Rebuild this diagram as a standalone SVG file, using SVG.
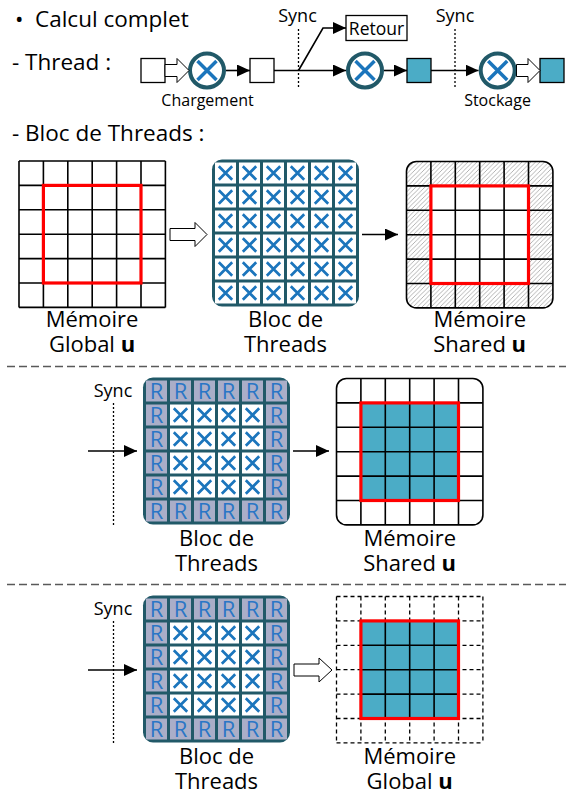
<svg xmlns="http://www.w3.org/2000/svg" xmlns:xlink="http://www.w3.org/1999/xlink" width="566" height="794" viewBox="0 0 566 794">
<style>
text{font-family:"Open Sans","Noto Sans","Liberation Sans",sans-serif;fill:#000}
.big{font-size:22.5px}
.lbl{font-size:22px;text-anchor:middle}
.sm{font-size:16px;text-anchor:middle}
.sync{font-size:18px;text-anchor:middle}
.box{fill:#fff;stroke:#000;stroke-width:1.3}
.tbox{fill:#4bacc6;stroke:#000;stroke-width:1.3}
.circ{fill:#fff;stroke:#215968;stroke-width:4}
.bx{stroke:#1b75bc;stroke-width:3.5;fill:none;stroke-linecap:butt}
.ln{stroke:#000;stroke-width:1.6;fill:none}
.hol{fill:#fff;stroke:#000;stroke-width:1}
.dot{stroke:#000;stroke-width:1.3;stroke-dasharray:2,2;fill:none}
.sep{stroke:#595959;stroke-width:1.3;stroke-dasharray:8,4;fill:none}
.grid{stroke:#000;stroke-width:1.6;fill:none}
.dgrid{stroke:#000;stroke-width:1.3;stroke-dasharray:4,3;fill:none}
.red{stroke:#ff0000;stroke-width:3.2;fill:none}
.frame{fill:#215968}
.R{font-size:22px;text-anchor:middle;fill:#2a76c6}
</style>
<defs>
<marker id="ah" markerUnits="userSpaceOnUse" markerWidth="14" markerHeight="12" refX="13" refY="6" orient="auto">
<path d="M0,0 L13,6 L0,12 z" fill="#000"/>
</marker>
<pattern id="hatch" patternUnits="userSpaceOnUse" width="4.5" height="4.5">
<rect width="4.5" height="4.5" fill="#fff"/>
<path d="M-1,1 l2,-2 M0,4.5 l4.5,-4.5 M3.5,5.5 l2,-2" stroke="#a0a0a0" stroke-width="0.8"/>
</pattern>
<g id="cx">
<rect width="21" height="21" fill="#fff"/>
<path d="M3.8,3.8 L17.2,17.2 M17.2,3.8 L3.8,17.2" stroke="#1b75bc" stroke-width="2.7" fill="none"/>
</g>
<g id="cr">
<rect width="21" height="21" fill="#aaaec8"/>
<text x="10.5" y="18.8" class="R">R</text>
</g>
<g id="cxx">
<path d="M-9.5,-9.5 L9.5,9.5 M9.5,-9.5 L-9.5,9.5" class="bx"/>
</g>
</defs>

<!-- Header texts -->
<g id="titles">
<text x="15" y="27" class="big">•</text>
<text x="35" y="27" class="big">Calcul complet</text>
<text x="12" y="70" class="big">- Thread :</text>
<text x="12" y="141" class="big">- Bloc de Threads :</text>
</g>

<!-- Thread row -->
<g id="thread-row">
<g id="box1"><rect x="141" y="58.5" width="24" height="24" class="box"/></g>
<g id="op1"><circle cx="207" cy="70.5" r="17" class="circ"/><use href="#cxx" x="207" y="70.5"/><text x="207.5" y="106" class="sm">Chargement</text></g>
<g id="box2"><rect x="250" y="58.5" width="24" height="24" class="box"/></g>
<g id="retour"><rect x="346" y="15.5" width="61" height="25" class="box"/><text x="376.5" y="35" style="font-size:17.5px;text-anchor:middle">Retour</text></g>
<g id="op2"><circle cx="365" cy="70.5" r="17" class="circ"/><use href="#cxx" x="365" y="70.5"/></g>
<g id="box3"><rect x="407" y="58.5" width="24" height="24" class="tbox"/></g>
<g id="op3"><circle cx="497.7" cy="70.5" r="17" class="circ"/><use href="#cxx" x="497.7" y="70.5"/><text x="497.5" y="106" class="sm">Stockage</text></g>
<g id="box4"><rect x="540" y="58.5" width="24" height="24" class="tbox"/></g>
<g id="sync1"><line x1="298.5" y1="29" x2="298.5" y2="89" class="dot"/><text x="297.5" y="22" class="sync">Sync</text></g>
<g id="sync2"><line x1="455" y1="29" x2="455" y2="89" class="dot"/><text x="455" y="22" class="sync">Sync</text></g>
</g>

<g id="connectors">
<polygon points="165,64.5 177,64.5 177,58.5 189,70.5 177,82.5 177,76.5 165,76.5" class="hol"/>
<line x1="226" y1="70.5" x2="250" y2="70.5" class="ln" marker-end="url(#ah)"/>
<line x1="274" y1="70.5" x2="346" y2="70.5" class="ln" marker-end="url(#ah)"/>
<polyline points="298.5,70.5 323,28 346,28" class="ln" marker-end="url(#ah)"/>
<line x1="384" y1="70.5" x2="407" y2="70.5" class="ln" marker-end="url(#ah)"/>
<line x1="431" y1="70.5" x2="478.5" y2="70.5" class="ln" marker-end="url(#ah)"/>
<polygon points="516.5,64.5 528,64.5 528,58.5 540,70.5 528,82.5 528,76.5 516.5,76.5" class="hol"/>
<polygon points="170,228.5 195,228.5 195,222.5 207,234.5 195,246.5 195,240.5 170,240.5" class="hol"/>
<line x1="362" y1="234.5" x2="398" y2="234.5" class="ln" marker-end="url(#ah)"/>
<line x1="88" y1="451" x2="137" y2="451" class="ln" marker-end="url(#ah)"/>
<line x1="293" y1="451" x2="329" y2="451" class="ln" marker-end="url(#ah)"/>
<line x1="88" y1="670" x2="137" y2="670" class="ln" marker-end="url(#ah)"/>
<polygon points="294,664 319,664 319,658 332,670 319,682 319,676 294,676" class="hol"/>
</g>

<!-- Section 1 -->
<g id="mem-global-1">
<rect x="19" y="161" width="146.4" height="146.4" fill="#fff"/>
<path class="grid" d="M19,161V307.4M43.4,161V307.4M67.8,161V307.4M92.2,161V307.4M116.6,161V307.4M141,161V307.4M165.4,161V307.4M19,161H165.4M19,185.4H165.4M19,209.8H165.4M19,234.2H165.4M19,258.6H165.4M19,283H165.4M19,307.4H165.4"/>
<rect x="43.4" y="185.4" width="97.6" height="97.6" class="red"/>
<text x="92" y="327" class="lbl">Mémoire</text>
<text x="92" y="352" class="lbl">Global <tspan font-weight="bold">u</tspan></text>
</g>

<g id="bloc-1">
<rect x="212" y="159.5" width="147" height="147" rx="10" class="frame"/>
<use href="#cx" x="215" y="162.5"/><use href="#cx" x="239" y="162.5"/><use href="#cx" x="263" y="162.5"/><use href="#cx" x="287" y="162.5"/><use href="#cx" x="311" y="162.5"/><use href="#cx" x="335" y="162.5"/>
<use href="#cx" x="215" y="186.5"/><use href="#cx" x="239" y="186.5"/><use href="#cx" x="263" y="186.5"/><use href="#cx" x="287" y="186.5"/><use href="#cx" x="311" y="186.5"/><use href="#cx" x="335" y="186.5"/>
<use href="#cx" x="215" y="210.5"/><use href="#cx" x="239" y="210.5"/><use href="#cx" x="263" y="210.5"/><use href="#cx" x="287" y="210.5"/><use href="#cx" x="311" y="210.5"/><use href="#cx" x="335" y="210.5"/>
<use href="#cx" x="215" y="234.5"/><use href="#cx" x="239" y="234.5"/><use href="#cx" x="263" y="234.5"/><use href="#cx" x="287" y="234.5"/><use href="#cx" x="311" y="234.5"/><use href="#cx" x="335" y="234.5"/>
<use href="#cx" x="215" y="258.5"/><use href="#cx" x="239" y="258.5"/><use href="#cx" x="263" y="258.5"/><use href="#cx" x="287" y="258.5"/><use href="#cx" x="311" y="258.5"/><use href="#cx" x="335" y="258.5"/>
<use href="#cx" x="215" y="282.5"/><use href="#cx" x="239" y="282.5"/><use href="#cx" x="263" y="282.5"/><use href="#cx" x="287" y="282.5"/><use href="#cx" x="311" y="282.5"/><use href="#cx" x="335" y="282.5"/>
<text x="285.5" y="327" class="lbl">Bloc de</text>
<text x="285.5" y="352" class="lbl">Threads</text>
</g>

<g id="mem-shared-1">
<rect x="406.5" y="161.5" width="146.4" height="146.4" rx="10" fill="url(#hatch)"/>
<rect x="430.9" y="185.9" width="97.6" height="97.6" fill="#fff"/>
<path class="grid" d="M430.9,161.5V307.9M455.3,161.5V307.9M479.7,161.5V307.9M504.1,161.5V307.9M528.5,161.5V307.9M406.5,185.9H552.9M406.5,210.3H552.9M406.5,234.7H552.9M406.5,259.1H552.9M406.5,283.5H552.9"/>
<rect x="406.5" y="161.5" width="146.4" height="146.4" rx="10" class="grid"/>
<rect x="430.9" y="185.9" width="97.6" height="97.6" class="red"/>
<text x="479.7" y="327" class="lbl">Mémoire</text>
<text x="479.7" y="352" class="lbl">Shared <tspan font-weight="bold">u</tspan></text>
</g>

<g id="separators">
<line x1="7" y1="366.5" x2="566" y2="366.5" class="sep"/>
<line x1="7" y1="584.5" x2="566" y2="584.5" class="sep"/>
</g>

<!-- Section 2 -->
<g id="sync-2">
<text x="113" y="397" class="sync">Sync</text>
<line x1="113.5" y1="403" x2="113.5" y2="525" class="dot"/>
</g>
<g id="bloc-2">
<rect x="143" y="377.5" width="147" height="147" rx="10" class="frame"/>
<use href="#cr" x="146" y="380.5"/><use href="#cr" x="170" y="380.5"/><use href="#cr" x="194" y="380.5"/><use href="#cr" x="218" y="380.5"/><use href="#cr" x="242" y="380.5"/><use href="#cr" x="266" y="380.5"/>
<use href="#cr" x="146" y="404.5"/><use href="#cx" x="170" y="404.5"/><use href="#cx" x="194" y="404.5"/><use href="#cx" x="218" y="404.5"/><use href="#cx" x="242" y="404.5"/><use href="#cr" x="266" y="404.5"/>
<use href="#cr" x="146" y="428.5"/><use href="#cx" x="170" y="428.5"/><use href="#cx" x="194" y="428.5"/><use href="#cx" x="218" y="428.5"/><use href="#cx" x="242" y="428.5"/><use href="#cr" x="266" y="428.5"/>
<use href="#cr" x="146" y="452.5"/><use href="#cx" x="170" y="452.5"/><use href="#cx" x="194" y="452.5"/><use href="#cx" x="218" y="452.5"/><use href="#cx" x="242" y="452.5"/><use href="#cr" x="266" y="452.5"/>
<use href="#cr" x="146" y="476.5"/><use href="#cx" x="170" y="476.5"/><use href="#cx" x="194" y="476.5"/><use href="#cx" x="218" y="476.5"/><use href="#cx" x="242" y="476.5"/><use href="#cr" x="266" y="476.5"/>
<use href="#cr" x="146" y="500.5"/><use href="#cr" x="170" y="500.5"/><use href="#cr" x="194" y="500.5"/><use href="#cr" x="218" y="500.5"/><use href="#cr" x="242" y="500.5"/><use href="#cr" x="266" y="500.5"/>
<text x="216.5" y="546" class="lbl">Bloc de</text>
<text x="216.5" y="571" class="lbl">Threads</text>
</g>

<g id="mem-shared-2">
<rect x="336.5" y="378.5" width="146.4" height="146.4" rx="10" fill="#fff"/>
<rect x="360.9" y="402.9" width="97.6" height="97.6" fill="#4bacc6"/>
<path class="grid" d="M360.9,378.5V524.9M385.3,378.5V524.9M409.7,378.5V524.9M434.1,378.5V524.9M458.5,378.5V524.9M336.5,402.9H482.9M336.5,427.3H482.9M336.5,451.7H482.9M336.5,476.1H482.9M336.5,500.5H482.9"/>
<rect x="336.5" y="378.5" width="146.4" height="146.4" rx="10" class="grid"/>
<rect x="360.9" y="402.9" width="97.6" height="97.6" class="red"/>
<text x="409.7" y="546" class="lbl">Mémoire</text>
<text x="409.7" y="571" class="lbl">Shared <tspan font-weight="bold">u</tspan></text>
</g>

<!-- Section 3 -->
<g id="sync-3">
<text x="113" y="615" class="sync">Sync</text>
<line x1="113.5" y1="621" x2="113.5" y2="743" class="dot"/>
</g>
<g id="bloc-3">
<rect x="143" y="595.5" width="147" height="147" rx="10" class="frame"/>
<use href="#cr" x="146" y="598.5"/><use href="#cr" x="170" y="598.5"/><use href="#cr" x="194" y="598.5"/><use href="#cr" x="218" y="598.5"/><use href="#cr" x="242" y="598.5"/><use href="#cr" x="266" y="598.5"/>
<use href="#cr" x="146" y="622.5"/><use href="#cx" x="170" y="622.5"/><use href="#cx" x="194" y="622.5"/><use href="#cx" x="218" y="622.5"/><use href="#cx" x="242" y="622.5"/><use href="#cr" x="266" y="622.5"/>
<use href="#cr" x="146" y="646.5"/><use href="#cx" x="170" y="646.5"/><use href="#cx" x="194" y="646.5"/><use href="#cx" x="218" y="646.5"/><use href="#cx" x="242" y="646.5"/><use href="#cr" x="266" y="646.5"/>
<use href="#cr" x="146" y="670.5"/><use href="#cx" x="170" y="670.5"/><use href="#cx" x="194" y="670.5"/><use href="#cx" x="218" y="670.5"/><use href="#cx" x="242" y="670.5"/><use href="#cr" x="266" y="670.5"/>
<use href="#cr" x="146" y="694.5"/><use href="#cx" x="170" y="694.5"/><use href="#cx" x="194" y="694.5"/><use href="#cx" x="218" y="694.5"/><use href="#cx" x="242" y="694.5"/><use href="#cr" x="266" y="694.5"/>
<use href="#cr" x="146" y="718.5"/><use href="#cr" x="170" y="718.5"/><use href="#cr" x="194" y="718.5"/><use href="#cr" x="218" y="718.5"/><use href="#cr" x="242" y="718.5"/><use href="#cr" x="266" y="718.5"/>
<text x="216.5" y="764" class="lbl">Bloc de</text>
<text x="216.5" y="789" class="lbl">Threads</text>
</g>

<g id="mem-global-3">
<path class="dgrid" d="M336.5,596.5V742.9M360.9,596.5V742.9M385.3,596.5V742.9M409.7,596.5V742.9M434.1,596.5V742.9M458.5,596.5V742.9M482.9,596.5V742.9M336.5,596.5H482.9M336.5,620.9H482.9M336.5,645.3H482.9M336.5,669.7H482.9M336.5,694.1H482.9M336.5,718.5H482.9M336.5,742.9H482.9"/>
<rect x="360.9" y="620.9" width="97.6" height="97.6" fill="#4bacc6"/>
<path class="grid" d="M385.3,620.9V718.5M409.7,620.9V718.5M434.1,620.9V718.5M360.9,645.3H458.5M360.9,669.7H458.5M360.9,694.1H458.5"/>
<rect x="360.9" y="620.9" width="97.6" height="97.6" class="red"/>
<text x="409.7" y="764" class="lbl">Mémoire</text>
<text x="409.7" y="789" class="lbl">Global <tspan font-weight="bold">u</tspan></text>
</g>
</svg>
